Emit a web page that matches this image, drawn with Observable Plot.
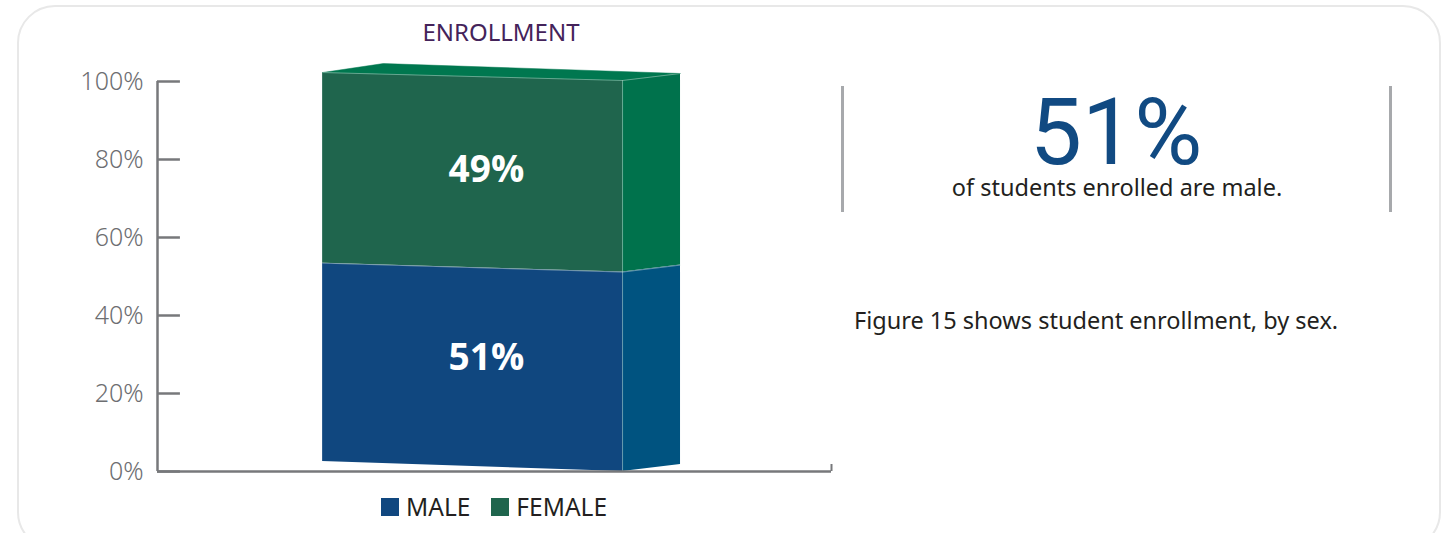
<!DOCTYPE html>
<html>
<head>
<meta charset="utf-8">
<script src="https://cdn.jsdelivr.net/npm/d3@7"></script>
<script src="https://cdn.jsdelivr.net/npm/@observablehq/plot@0.6"></script>
<style>
  html, body { margin: 0; padding: 0; background: #fff; }
  body { width: 1441px; height: 533px; position: relative; overflow: hidden; font-family: "Noto Sans", sans-serif; }
  .card { position: absolute; left: 17px; top: 5px; width: 1424px; height: 545px; border: 2.5px solid #e8e8e8; border-radius: 38px; box-sizing: border-box; }
  #chart { position: absolute; left: 0; top: 0; }
  .title { position: absolute; left: 501px; top: 20px; transform: translateX(-50%); color: #44235a; font-size: 24px; white-space: nowrap; line-height: 1; }
  .legend { position: absolute; left: 381px; top: 495px; display: flex; align-items: center; font-size: 24.5px; color: #231f20; line-height: 1; white-space: nowrap; }
  .legend .sw { width: 18px; height: 18px; display: inline-block; margin-right: 7px; }
  .legend .item { display: flex; align-items: center; margin-right: 21px; }
  .vline { position: absolute; width: 3px; background: #a7a9ac; top: 86px; height: 126px; }
  .big { position: absolute; left: 1116px; top: 98px; transform: translateX(-50%); color: #114a82; font-family: Roboto, sans-serif; font-size: 93px; line-height: 0.75; white-space: nowrap; }
  .sub { position: absolute; left: 1117px; top: 176px; transform: translateX(-50%); color: #231f20; font-size: 23.5px; line-height: 1; white-space: nowrap; }
  .fig { position: absolute; left: 854px; top: 309px; color: #231f20; font-size: 23.5px; line-height: 1; white-space: nowrap; }
</style>
</head>
<body>
<div class="card"></div>
<div id="chart"></div>
<div class="title" id="title"></div>
<div class="legend" id="legend"></div>
<div class="vline" style="left:841px"></div>
<div class="vline" style="left:1389px"></div>
<div class="big" id="big"></div>
<div class="sub" id="sub"></div>
<div class="fig" id="fig"></div>
<script>
// ---- data ----
const categories = ["MALE", "FEMALE"];
const values = [51, 49];
const yTicks = [0, 20, 40, 60, 80, 100];
const chartTitle = "ENROLLMENT";
const headlineValue = 51;
const headlineText = "of students enrolled are male.";
const figureText = "Figure 15 shows student enrollment, by sex.";

// ---- styles ----
const frontColors = ["#10477f", "#1f654d"];
const sideColors = ["#005380", "#00724c"];
const topColor = "#00774f";
const axisColor = "#77787b";

// ---- 3D box geometry (x in axis units 0..100, y in % units) ----
const box = {
  FL: {x: 24.5, yb: 2.56, yt: 102.3},
  FR: {x: 69.0, yb: 0, yt: 100.26},
  BR: {x: 77.6, yb: 1.8, yt: 102.05},
  BL: {x: 33.5, yb: 4.4, yt: 104.6}
};
const at = (e, v) => e.yb + (e.yt - e.yb) * v / 100;

const cum = [0];
values.forEach(v => cum.push(cum[cum.length - 1] + v));

const faceRows = [];
categories.forEach((c, i) => {
  const v0 = cum[i], v1 = cum[i + 1];
  for (const e of [box.FL, box.FR]) faceRows.push({face: "front-" + c, x: e.x, y1: at(e, v0), y2: at(e, v1), fill: frontColors[i]});
  for (const e of [box.FR, box.BR]) faceRows.push({face: "side-" + c, x: e.x, y1: at(e, v0), y2: at(e, v1), fill: sideColors[i]});
});
const topRows = [box.FL, box.BL, box.BR, box.FR, box.FL].map(e => ({x: e.x, y: at(e, cum[cum.length - 1])}));

const edgeRows = [];
cum.slice(1).forEach((v, k) => {
  [box.FL, box.FR, box.BR].forEach(e => edgeRows.push({edge: "h" + k, x: e.x, y: at(e, v)}));
});
edgeRows.push({edge: "vFR", x: box.FR.x, y: at(box.FR, 0)});
edgeRows.push({edge: "vFR", x: box.FR.x, y: at(box.FR, 100)});

const labelX = box.FL.x + (box.FR.x - box.FL.x) * 0.546;
const labelRows = categories.map((c, i) => {
  const vm = (cum[i] + cum[i + 1]) / 2;
  const yl = at(box.FL, vm), yr = at(box.FR, vm);
  return {cat: c, x: labelX, y: yl + (yr - yl) * 0.546, text: values[i] + "%"};
});

const plot = Plot.plot({
  width: 860,
  height: 533,
  marginLeft: 157,
  marginRight: 29,
  marginTop: 81,
  marginBottom: 62,
  x: {domain: [0, 100], axis: null},
  y: {domain: [0, 100]},
  color: {type: "identity"},
  style: {background: "transparent", fontFamily: "Noto Sans", overflow: "visible"},
  marks: [
    Plot.areaY(faceRows, {x: "x", y1: "y1", y2: "y2", z: "face", fill: "fill", curve: "linear"}),
    Plot.line(topRows, {x: "x", y: "y", fill: topColor, stroke: topColor, strokeWidth: 0.5, curve: "linear"}),
    Plot.line(edgeRows, {x: "x", y: "y", z: "edge", stroke: "#d8e6e0", strokeOpacity: 0.45, strokeWidth: 1, curve: "linear"}),
    Plot.text(labelRows.filter(d => d.cat === "MALE"), {x: "x", y: "y", text: "text", fill: "white", fontSize: 37, fontWeight: "bold", dy: -9, fontFamily: "Open Sans"}),
    Plot.text(labelRows.filter(d => d.cat === "FEMALE"), {x: "x", y: "y", text: "text", fill: "white", fontSize: 37, fontWeight: "bold", dy: -2, fontFamily: "Open Sans"}),
    Plot.ruleX([0], {y1: 0, y2: 100, stroke: axisColor, strokeWidth: 2.5}),
    Plot.ruleY(yTicks, {x1: 0, x2: 3.4, stroke: axisColor, strokeWidth: 2.5}),
    Plot.ruleY([0], {x1: 0, x2: 100, stroke: axisColor, strokeWidth: 2.5}),
    Plot.ruleX([100], {y1: 0, y2: 1.8, stroke: axisColor, strokeWidth: 2}),
    Plot.axisY(yTicks, {tickSize: 0, tickPadding: 14, tickFormat: d => d + "%", label: null, fontSize: 25, fontWeight: 300, fill: "#6d6e71"})
  ]
});
document.getElementById("chart").appendChild(plot);

document.getElementById("title").textContent = chartTitle;
const legend = document.getElementById("legend");
categories.forEach((c, i) => {
  const item = document.createElement("span");
  item.className = "item";
  const sw = document.createElement("span");
  sw.className = "sw";
  sw.style.background = frontColors[i];
  item.appendChild(sw);
  item.appendChild(document.createTextNode(c));
  legend.appendChild(item);
});
document.getElementById("big").textContent = headlineValue + "%";
document.getElementById("sub").textContent = headlineText;
document.getElementById("fig").textContent = figureText;
</script>
</body>
</html>
